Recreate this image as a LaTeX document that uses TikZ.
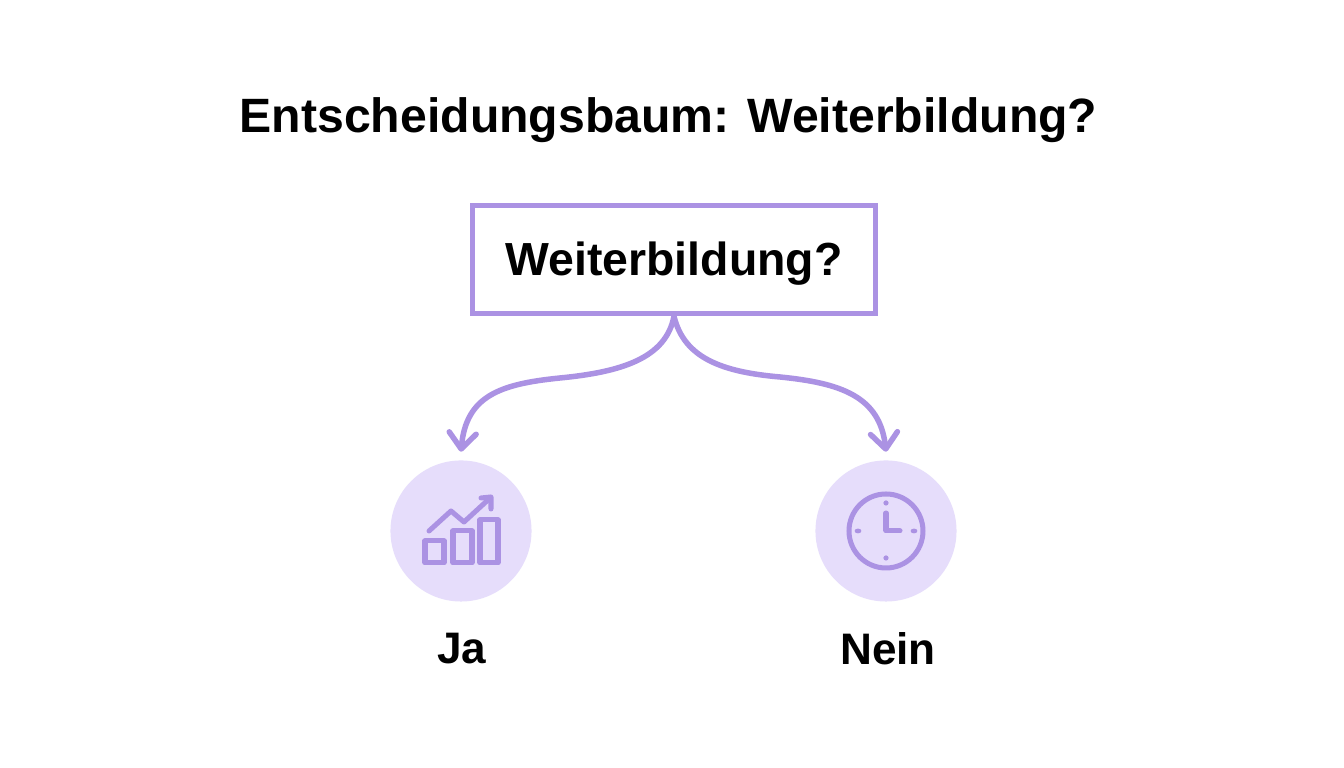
\documentclass[tikz,border=0pt]{standalone}
\usepackage{fontspec}
\setmainfont{Liberation Sans}
\usetikzlibrary{arrows.meta, calc, positioning}
\definecolor{lilac}{HTML}{AB92E3}
\definecolor{lilaclight}{HTML}{E6DDFB}

\begin{document}
\begin{tikzpicture}[x=0.01cm, y=-0.01cm]%{{{
        \useasboundingbox [fill=white] (0, 0) rectangle (1344, 768);

        \tikzstyle{txt} = [font=\bfseries\fontsize{13.65bp}{17bp}\selectfont, text=black, inner sep=0pt];
        \tikzstyle{ans} = [font=\bfseries\fontsize{12.5bp}{15bp}\selectfont, text=black, inner sep=0pt];
        \tikzstyle{q} = [draw=lilac, line width=0.055cm, fill=white, minimum width=4.03cm, minimum height=1.08cm, inner sep=0pt, font=\bfseries\fontsize{13.15bp}{16bp}\selectfont];
        \tikzstyle{c} = [circle, fill=lilaclight, minimum size=1.41cm, inner sep=0pt];
        \tikzstyle{l} = [draw=lilac, line width=0.055cm, line cap=round, line join=round, -{Straight Barb[length=0.16cm, width=0.27cm, round]}];
        \tikzstyle{i} = [draw=lilac, line width=0.05cm, line cap=round, line join=round];

        \node [txt] (title) at (668.5, 120) {Entscheidungsbaum: Weiterbildung?};
        \node [q] (Q) at (674, 259.5) {\raisebox{-4.5pt}[0pt][0pt]{Weiterbildung?}};

        \node [c] (Ja) at (461, 531) { };
        \node [c] (Nein) at (886, 531) { };
        \node [ans] (JaL) at (462, 649) {Ja};
        \node [ans] (NeinL) at (888, 649) {Nein};

        \coordinate (M1) at (560, 378);
        \coordinate (M2) at (780, 377);

        \draw [l] (Q.south) .. controls (666, 358) and (622, 372) .. (M1)
            .. controls (500, 384) and (466, 396) .. ($(Ja.north) + (0, -8)$);
        \draw [l] (Q.south) .. controls (684, 358) and (722, 372) .. (M2)
            .. controls (840, 383) and (880, 396) .. ($(Nein.north) + (0, -8)$);

        \foreach \bx/\bw/\bt in {425/19/541, 453/19/531, 480/18/520}{
            \draw [i] (\bx, \bt) rectangle (\bx + \bw, 563);
        }
        \draw [i] (429, 531) -- (451, 511) -- (464, 522) -- (489, 499);
        \draw [i] (481, 498) -- (491, 497) -- (491, 509);

        \draw [draw=lilac, line width=0.05cm] (Nein.center) circle [radius=37];
        \draw [i] (886, 513) -- (886, 531) -- (900, 531);
        \foreach \tx/\ty in {886/503, 886/558}{
            \fill [lilac] (\tx, \ty) circle [radius=2.6];
        }
        \foreach \tx/\ty in {858/531, 914/531}{
            \fill [lilac] (\tx, \ty) ellipse [x radius=3.4, y radius=2.4];
        }
    \end{tikzpicture}
\end{document}
